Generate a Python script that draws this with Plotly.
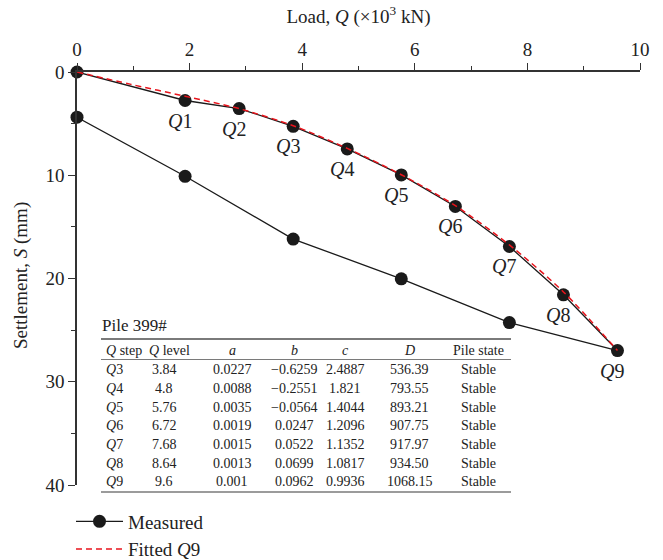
import plotly.graph_objects as go

# ---- data ----
load_loading = [0, 1.92, 2.88, 3.84, 4.8, 5.76, 6.72, 7.68, 8.64, 9.6]
settle_loading = [0, 2.76, 3.54, 5.26, 7.45, 9.97, 13.02, 16.9, 21.58, 26.98]
load_unloading = [7.68, 5.76, 3.84, 1.92, 0]
settle_unloading = [24.27, 20.03, 16.18, 10.1, 4.38]

fit_load = [0, 0.96, 1.92, 2.88, 3.84, 4.8, 5.76, 6.72, 7.68, 8.64, 9.6]
fit_settle = [0, 1.2, 2.35, 3.55, 5.2, 7.4, 9.95, 12.95, 16.75, 21.3, 26.98]

point_labels = ["Q1", "Q2", "Q3", "Q4", "Q5", "Q6", "Q7", "Q8", "Q9"]

x_ticks = [0, 2, 4, 6, 8, 10]
y_ticks = [0, 10, 20, 30, 40]

table_title = "Pile 399#"
table_header = ["<i>Q</i> step", "<i>Q</i> level", "<i>a</i>", "<i>b</i>", "<i>c</i>", "<i>D</i>", "Pile state"]
q_step = ["Q3", "Q4", "Q5", "Q6", "Q7", "Q8", "Q9"]
q_level = ["3.84", "4.8", "5.76", "6.72", "7.68", "8.64", "9.6"]
a_vals = ["0.0227", "0.0088", "0.0035", "0.0019", "0.0015", "0.0013", "0.001"]
b_vals = ["\u22120.6259", "\u22120.2551", "\u22120.0564", "0.0247", "0.0522", "0.0699", "0.0962"]
c_vals = ["2.4887", "1.821", "1.4044", "1.2096", "1.1352", "1.0817", "0.9936"]
d_vals = ["536.39", "793.55", "893.21", "907.75", "917.97", "934.50", "1068.15"]
state_vals = ["Stable"] * 7

FONT = "Liberation Serif"

# ---- layout geometry (pixels) ----
W, H = 663, 560
ML, MR, MT, MB = 77, 23, 72, 75
PW = W - ML - MR
PH = H - MT - MB


def px(xp):
    return (xp - ML) / PW


def py(yp):
    return (H - MB - yp) / PH


fig = go.Figure()

measured_x = load_loading + load_unloading
measured_y = settle_loading + settle_unloading

fig.add_trace(go.Scatter(
    x=measured_x, y=measured_y, mode="lines+markers", name="Measured",
    line=dict(color="#1a1a1a", width=1.3),
    marker=dict(color="#1a1a1a", size=13),
    cliponaxis=False,
))
fig.add_trace(go.Scatter(
    x=fit_load, y=fit_settle, mode="lines", name="Fitted <i>Q</i>9",
    line=dict(color="#e8141c", width=1.5, dash="6px,4px", shape="spline", smoothing=0.8),
    cliponaxis=False,
))

annotations = []
for lab, xv, yv in zip(point_labels, load_loading[1:], settle_loading[1:]):
    annotations.append(dict(
        x=xv, y=yv, xref="x", yref="y", text="<i>Q</i>" + lab[1:],
        showarrow=False, xshift=-5, yshift=-20,
        font=dict(family=FONT, size=20, color="#222"),
    ))

# y-axis title
annotations.append(dict(
    x=px(21), y=py(276), xref="paper", yref="paper",
    text="Settlement, <i>S</i> (mm)", textangle=-90, showarrow=False,
    xanchor="center", yanchor="middle",
    font=dict(family=FONT, size=19, color="#222"),
))

# table
annotations.append(dict(
    x=px(100), y=py(325), xref="paper", yref="paper", text=table_title,
    showarrow=False, xanchor="left", yanchor="middle",
    font=dict(family=FONT, size=17, color="#222"),
))
col_x_header = [104, 169, 232, 294, 345, 410, 478]
col_x_data = [104, 164, 232, 294, 345, 410, 478]
header_y = 350.5
row_y = [369.5, 388.3, 407, 425.5, 444.2, 463, 481.7]
for i, htxt in enumerate(table_header):
    annotations.append(dict(
        x=px(col_x_header[i]), y=py(header_y), xref="paper", yref="paper",
        text=htxt, showarrow=False,
        xanchor="left" if i == 0 else "center", yanchor="middle",
        font=dict(family=FONT, size=14, color="#222"),
    ))
columns = [q_step, q_level, a_vals, b_vals, c_vals, d_vals, state_vals]
for ci, col in enumerate(columns):
    for ri, val in enumerate(col):
        txt = "<i>Q</i>" + val[1:] if ci == 0 else val
        annotations.append(dict(
            x=px(col_x_data[ci]), y=py(row_y[ri]), xref="paper", yref="paper",
            text=txt, showarrow=False,
            xanchor="left" if ci == 0 else "center", yanchor="middle",
            font=dict(family=FONT, size=14, color="#222"),
        ))

shapes = []
for yl, wd in [(339, 2), (359.5, 1), (492, 1.5)]:
    shapes.append(dict(
        type="line", xref="paper", yref="paper",
        x0=px(101), x1=px(511), y0=py(yl), y1=py(yl),
        line=dict(color="#7a7a7a", width=wd),
    ))

fig.update_layout(
    width=W, height=H,
    margin=dict(l=ML, r=MR, t=MT, b=MB, autoexpand=False),
    paper_bgcolor="white", plot_bgcolor="white",
    font=dict(family=FONT, size=19, color="#222"),
    annotations=annotations, shapes=shapes,
    showlegend=True,
    legend=dict(
        xref="container", yref="container",
        x=71 / W, y=(H - 502.5) / H, xanchor="left", yanchor="top",
        bgcolor="rgba(0,0,0,0)", font=dict(family=FONT, size=19, color="#222"),
        tracegroupgap=0, itemwidth=47,
    ),
    xaxis=dict(
        side="top", range=[0, 10], tickvals=x_ticks,
        showgrid=False, zeroline=False,
        showline=True, linecolor="#333", linewidth=1.5,
        ticks="outside", ticklen=7, tickwidth=1.3, tickcolor="#333",
        minor=dict(dtick=1, ticks="outside", ticklen=4, tickwidth=1.2, tickcolor="#333", showgrid=False),
        tickfont=dict(family=FONT, size=19),
        title=dict(text="Load, <i>Q</i> (\u00d710<sup>3</sup> kN)", font=dict(family=FONT, size=19), standoff=10),
    ),
    yaxis=dict(
        range=[40, 0], tickvals=y_ticks,
        showgrid=False, zeroline=False,
        showline=True, linecolor="#333", linewidth=1.5,
        ticks="outside", ticklen=7, tickwidth=1.3, tickcolor="#333",
        minor=dict(dtick=5, ticks="outside", ticklen=4, tickwidth=1.2, tickcolor="#333", showgrid=False),
        tickfont=dict(family=FONT, size=19),
    ),
)

fig.write_html("out.html")
